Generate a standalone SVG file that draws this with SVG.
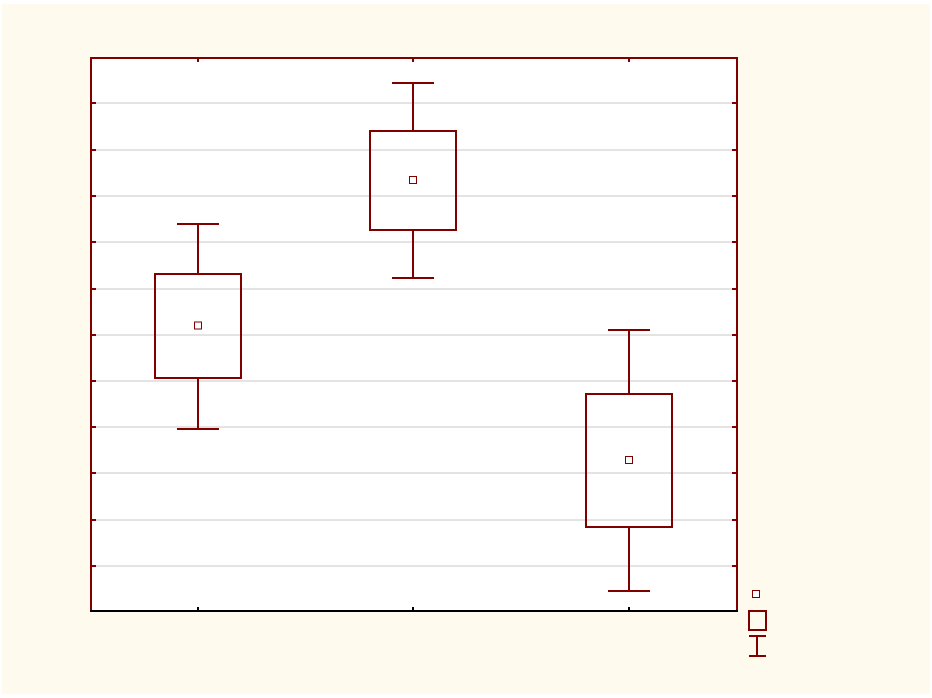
<svg xmlns="http://www.w3.org/2000/svg" width="932" height="698" viewBox="0 0 932 698">
<style>
.grid{stroke:#c8c8c8;stroke-width:1}
.ax{stroke:#800000;stroke-width:2;fill:none}
.bx{stroke:#800000;stroke-width:2;fill:none}
.mk{stroke:#800000;stroke-width:1;fill:#fff}
.tk{stroke:#800000;stroke-width:2}
</style>
<rect x="0" y="0" width="932" height="698" fill="#ffffff"/>
<rect x="2" y="4" width="928" height="690" fill="#fefaed"/>
<rect x="91" y="58" width="646" height="553" fill="#ffffff"/>
<g id="grid">
<line class="grid" x1="95" y1="103" x2="733" y2="103"/>
<line class="grid" x1="95" y1="150" x2="733" y2="150"/>
<line class="grid" x1="95" y1="196" x2="733" y2="196"/>
<line class="grid" x1="95" y1="242" x2="733" y2="242"/>
<line class="grid" x1="95" y1="289" x2="733" y2="289"/>
<line class="grid" x1="95" y1="335" x2="733" y2="335"/>
<line class="grid" x1="95" y1="381" x2="733" y2="381"/>
<line class="grid" x1="95" y1="427" x2="733" y2="427"/>
<line class="grid" x1="95" y1="473" x2="733" y2="473"/>
<line class="grid" x1="95" y1="520" x2="733" y2="520"/>
<line class="grid" x1="95" y1="566" x2="733" y2="566"/>
</g>
<g id="axes">
<polyline class="ax" points="91,611 91,58 737,58 737,611"/>
<line x1="90" y1="611" x2="738" y2="611" stroke="#000" stroke-width="2"/>
<g class="tk">
<line x1="91" y1="103" x2="96" y2="103"/><line x1="91" y1="150" x2="96" y2="150"/><line x1="91" y1="196" x2="96" y2="196"/><line x1="91" y1="242" x2="96" y2="242"/><line x1="91" y1="289" x2="96" y2="289"/><line x1="91" y1="335" x2="96" y2="335"/><line x1="91" y1="381" x2="96" y2="381"/><line x1="91" y1="427" x2="96" y2="427"/><line x1="91" y1="473" x2="96" y2="473"/><line x1="91" y1="520" x2="96" y2="520"/><line x1="91" y1="566" x2="96" y2="566"/>
<line x1="732" y1="103" x2="737" y2="103"/><line x1="732" y1="150" x2="737" y2="150"/><line x1="732" y1="196" x2="737" y2="196"/><line x1="732" y1="242" x2="737" y2="242"/><line x1="732" y1="289" x2="737" y2="289"/><line x1="732" y1="335" x2="737" y2="335"/><line x1="732" y1="381" x2="737" y2="381"/><line x1="732" y1="427" x2="737" y2="427"/><line x1="732" y1="473" x2="737" y2="473"/><line x1="732" y1="520" x2="737" y2="520"/><line x1="732" y1="566" x2="737" y2="566"/>
<line x1="198" y1="58" x2="198" y2="62"/><line x1="413" y1="58" x2="413" y2="62"/><line x1="629" y1="58" x2="629" y2="62"/>
</g>
<g stroke="#000" stroke-width="2">
<line x1="198" y1="607" x2="198" y2="611"/><line x1="413" y1="607" x2="413" y2="611"/><line x1="629" y1="607" x2="629" y2="611"/>
</g>
</g>
<g id="box1">
<line class="bx" x1="198" y1="224" x2="198" y2="274"/>
<line class="bx" x1="198" y1="378" x2="198" y2="429"/>
<line class="bx" x1="177" y1="224" x2="219" y2="224"/>
<line class="bx" x1="177" y1="429" x2="219" y2="429"/>
<rect class="bx" x="155" y="274" width="86" height="104" fill="#fff"/>
<rect class="mk" x="194.5" y="322" width="7" height="7"/>
</g>
<g id="box2">
<line class="bx" x1="413" y1="83" x2="413" y2="131"/>
<line class="bx" x1="413" y1="230" x2="413" y2="278"/>
<line class="bx" x1="392" y1="83" x2="434" y2="83"/>
<line class="bx" x1="392" y1="278" x2="434" y2="278"/>
<rect class="bx" x="370" y="131" width="86" height="99" fill="#fff"/>
<rect class="mk" x="409.5" y="176.5" width="7" height="7"/>
</g>
<g id="box3">
<line class="bx" x1="629" y1="330" x2="629" y2="394"/>
<line class="bx" x1="629" y1="527" x2="629" y2="591"/>
<line class="bx" x1="608" y1="330" x2="650" y2="330"/>
<line class="bx" x1="608" y1="591" x2="650" y2="591"/>
<rect class="bx" x="586" y="394" width="86" height="133" fill="#fff"/>
<rect class="mk" x="625.5" y="456.5" width="7" height="7"/>
</g>
<g id="legend">
<rect class="mk" x="752.5" y="590.5" width="7" height="7" fill="none"/>
<rect class="bx" x="749" y="611" width="17" height="19"/>
<line class="bx" x1="757" y1="636" x2="757" y2="656"/>
<line class="bx" x1="749" y1="636" x2="766" y2="636"/>
<line class="bx" x1="749" y1="656" x2="766" y2="656"/>
</g>
</svg>
